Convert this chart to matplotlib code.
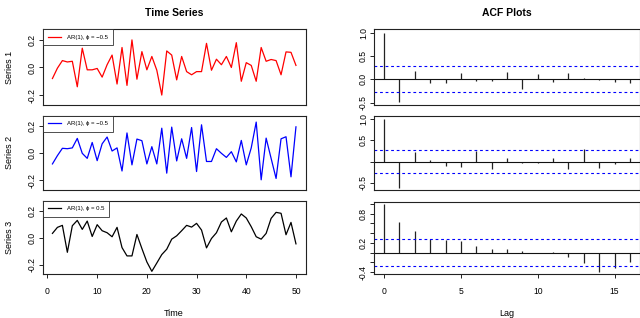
import matplotlib
matplotlib.use("Agg")
import matplotlib.pyplot as plt
import numpy as np

plt.rcParams['font.family'] = ['Liberation Sans', 'DejaVu Sans']
plt.rcParams['axes.unicode_minus'] = False

# ---------------- data ----------------
time = list(range(1, 51))
series1 = [-0.08, -0.005, 0.05, 0.04, 0.045, -0.14, 0.14, -0.017, -0.017, -0.007,
           -0.07, 0.02, 0.09, -0.12, 0.145, -0.13, 0.2, -0.085, 0.115, -0.017,
           0.08, -0.02, -0.2, 0.12, 0.09, -0.09, 0.08, -0.03, -0.053, -0.03,
           -0.03, 0.175, -0.02, 0.06, 0.02, 0.08, 0.0, 0.18, -0.1, 0.035,
           0.015, -0.1, 0.145, 0.045, 0.058, 0.05, -0.053, 0.113, 0.11, 0.015]
series2 = [-0.078, -0.017, 0.037, 0.034, 0.04, 0.11, 0.0, -0.037, 0.08, -0.054,
           0.07, 0.12, 0.017, 0.04, -0.13, 0.15, -0.085, 0.105, 0.093, -0.078,
           0.049, -0.078, 0.185, -0.146, 0.193, -0.056, 0.107, -0.037, 0.19, -0.134,
           0.21, -0.06, -0.06, 0.034, 0.0, -0.03, 0.012, -0.063, 0.095, -0.085,
           0.04, 0.23, -0.195, 0.112, -0.037, -0.185, 0.107, 0.122, -0.173, 0.195]
series3 = [0.033, 0.078, 0.093, -0.108, 0.09, 0.13, 0.063, 0.125, 0.01, 0.098,
           0.053, 0.038, 0.008, 0.078, -0.073, -0.135, -0.135, 0.025, -0.08, -0.18,
           -0.25, -0.188, -0.125, -0.085, -0.01, 0.015, 0.053, 0.093, 0.08, 0.108,
           0.058, -0.075, -0.005, 0.038, 0.118, 0.148, 0.045, 0.125, 0.178, 0.148,
           0.083, 0.008, -0.01, 0.033, 0.145, 0.19, 0.183, 0.023, 0.115, -0.045]

lags = list(range(0, 17))
acf1 = [1.0, -0.49, 0.185, -0.07, -0.07, 0.14, -0.04, -0.04, 0.157, -0.207,
        0.107, -0.05, 0.136, 0.028, -0.014, -0.05, -0.086]
acf2 = [1.0, -0.61, 0.234, 0.03, -0.094, -0.125, 0.25, -0.164, 0.086, -0.04,
        -0.04, 0.078, -0.172, 0.29, -0.14, -0.055, 0.078]
acf3 = [1.0, 0.627, 0.443, 0.286, 0.259, 0.232, 0.143, 0.068, 0.075, 0.027,
        0.0, 0.014, -0.082, -0.218, -0.389, -0.307, -0.184]
ci_bound = 0.277

series_names = ["Series 1", "Series 2", "Series 3"]
legend_labels = ["AR(1), \u03d5 = \u22120.5", "AR(1), \u03d5 = \u22120.5", "AR(1), \u03d5 = 0.5"]
series_colors = ["#FF0000", "#0000FF", "#000000"]
time_ticks = [0, 10, 20, 30, 40, 50]
lag_ticks = [0, 5, 10, 15]

# ---------------- figure ----------------
W, H = 640, 318
fig = plt.figure(figsize=(W / 100, H / 100), dpi=100)


def add_ax(l, t, r, b):
    return fig.add_axes([l / W, 1 - b / H, (r - l) / W, (b - t) / H])


left_rows = [(29.3, 104.7), (115.7, 190.0), (200.7, 274.0)]
right_rows = [(29.3, 104.7), (116.0, 190.0), (201.7, 274.0)]
LL, LR = 42.7, 305.7
RL, RR = 374.3, 639.7

tick_fs = 6.2
all_series = [series1, series2, series3]
all_acf = [acf1, acf2, acf3]
acf_ylims = [(-0.543, 1.071), (-0.664, 1.07), (-0.436, 1.043)]
acf_yticks = [[-0.5, 0.0, 0.5, 1.0], [-0.5, 0.0, 0.5, 1.0],
              [-0.4, -0.2, 0.0, 0.2, 0.4, 0.6, 0.8, 1.0]]
acf_ylabels = [["-0.5", "0.0", "0.5", "1.0"], ["-0.5", "", "0.5", "1.0"],
               ["-0.4", "", "", "0.2", "", "", "0.8", ""]]


def style(ax):
    for s in ax.spines.values():
        s.set_linewidth(0.8)
        s.set_color("#222222")
    ax.tick_params(axis='both', length=3, width=0.7, color="#222222",
                   labelsize=tick_fs, pad=1.5)
    ax.tick_params(axis='x', pad=6.5)


for i in range(3):
    t, b = left_rows[i]
    ax = add_ax(LL, t, LR, b)
    style(ax)
    ax.plot(time, all_series[i], color=series_colors[i], lw=0.9)
    ax.set_xlim(1 - 0.04 * 49, 50 + 0.04 * 49)
    ax.set_ylim(-0.27, 0.277)
    ax.set_yticks([-0.2, 0.0, 0.2])
    ax.set_yticklabels(["-0.2", "0.0", "0.2"], rotation=90, va='center')
    if i < 2:
        ax.set_xticks([])
    else:
        ax.set_xticks(time_ticks)
    leg = ax.legend([plt.Line2D([], [], color=series_colors[i], lw=0.9)],
                    [legend_labels[i]], loc='upper left', borderaxespad=0,
                    fontsize=4.3, frameon=True, fancybox=False,
                    handlelength=2.2, handletextpad=0.9, borderpad=0.9)
    leg.get_frame().set_edgecolor("#222222")
    leg.get_frame().set_linewidth(0.7)
    fig.text(10 / W, 1 - ((t + b) / 2) / H, series_names[i], rotation=90,
             ha='center', va='center', fontsize=6.5)

    t, b = right_rows[i]
    ax = add_ax(RL, t, RR, b)
    style(ax)
    ax.vlines(lags, 0, all_acf[i], color="#222222", lw=0.9)
    ax.axhline(0, color="#111111", lw=0.8)
    ax.axhline(ci_bound, color="#0000FF", lw=0.8, ls=(0, (2.5, 2.5)))
    ax.axhline(-ci_bound, color="#0000FF", lw=0.8, ls=(0, (2.5, 2.5)))
    ax.set_xlim(-0.64, 16.64)
    ax.set_ylim(*acf_ylims[i])
    ax.set_yticks(acf_yticks[i])
    ax.set_yticklabels(acf_ylabels[i], rotation=90, va='center')
    if i < 2:
        ax.set_xticks([])
    else:
        ax.set_xticks(lag_ticks)

fig.text(174 / W, 1 - 13.5 / H, "Time Series", ha='center', va='center',
         fontsize=7.5, fontweight='bold')
fig.text(507 / W, 1 - 13.5 / H, "ACF Plots", ha='center', va='center',
         fontsize=7.5, fontweight='bold')
fig.text(174 / W, 1 - 313.5 / H, "Time", ha='center', va='center', fontsize=6.5)
fig.text(507 / W, 1 - 313.5 / H, "Lag", ha='center', va='center', fontsize=6.5)

fig.savefig("out.png", dpi=100)
